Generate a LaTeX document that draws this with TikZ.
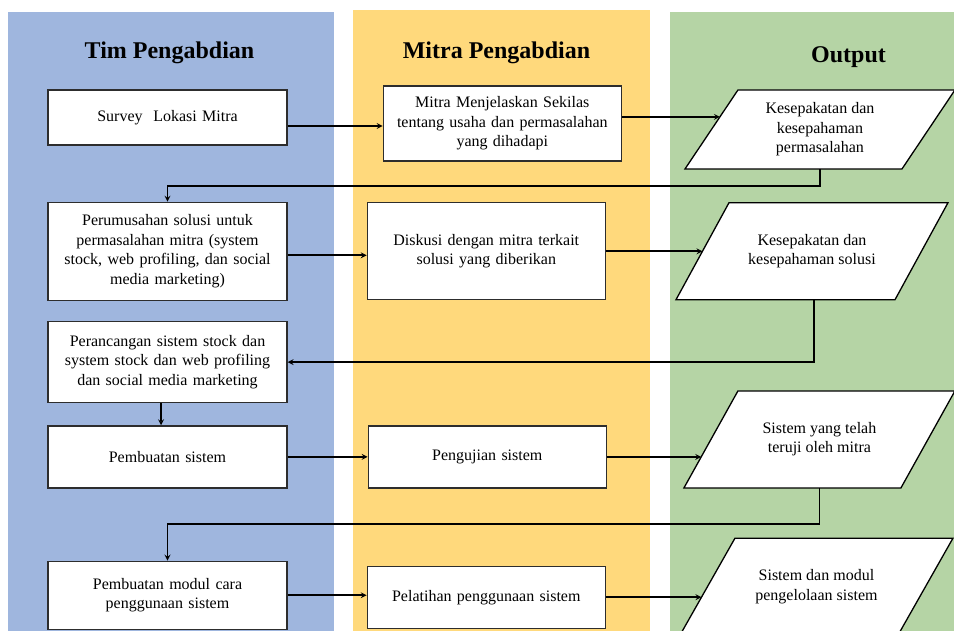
\documentclass[tikz,border=0pt]{standalone}
\usepackage{fontspec}
\setmainfont{Liberation Serif}
\usetikzlibrary{arrows,positioning,calc,backgrounds}
\definecolor{laneblue}{RGB}{159,182,222}
\definecolor{laneyellow}{RGB}{255,217,124}
\definecolor{lanegreen}{RGB}{181,212,165}
\definecolor{boxline}{RGB}{45,45,45}

\begin{document}
\begin{tikzpicture}[
    x=1pt, y=-1pt,
    process/.style={rectangle, draw=boxline, line width=1.3pt, fill=white, text width=226pt, align=center, minimum width=239pt, font=\fontsize{16}{19.5}\selectfont},
    outbox/.style={rectangle, outer sep=0pt, align=center, minimum width=271pt, minimum height=97pt, font=\fontsize{16}{19.5}\selectfont},
    outline/.style={draw, line width=1.3pt, fill=white, line join=miter},
    lanetitle/.style={anchor=base, font=\fontsize{24}{28}\selectfont\bfseries},
    arrow/.style={->, >=stealth, line width=1.6pt}
]
\useasboundingbox (0,0) rectangle (954,631);

\node[lanetitle] (tim-title) at (169.5,59) {Tim Pengabdian};
\node[lanetitle] (mitra-title) at (496.5,59) {Mitra Pengabdian};
\node[lanetitle] (output-title) at (848.5,63) {Output};

% Tim Pengabdian
\node[process, minimum height=55pt] (survey) at (167.5,117.5) {Survey~~Lokasi Mitra};
\node[process, minimum height=98pt, below=56pt of survey] (perumusan) {Perumusahan solusi untuk\\ permasalahan mitra (system\\ stock, web profiling, dan social\\ media marketing)};
\node[process, minimum height=81pt, below=20pt of perumusan] (perancangan) {Perancangan sistem stock dan\\ system stock dan web profiling\\ dan social media marketing};
\node[process, minimum height=62pt, below=22pt of perancangan] (pembuatan) {Pembuatan sistem};
\node[process, minimum height=68pt, below=72pt of pembuatan] (modul) {Pembuatan modul cara\\ penggunaan sistem};

% Mitra Pengabdian
\node[process, minimum width=238pt, minimum height=75pt, right=95pt of survey, yshift=-6pt] (mitra) {Mitra Menjelaskan Sekilas\\ tentang usaha dan permasalahan\\ yang dihadapi};
\node[process, minimum width=238pt, minimum height=97pt, right=79pt of perumusan] (diskusi) {Diskusi dengan mitra terkait\\ solusi yang diberikan};
\node[process, minimum width=238pt, minimum height=62pt, right=80pt of pembuatan] (pengujian) {Pengujian sistem};
\node[process, minimum width=238pt, minimum height=62pt, right=79pt of modul, yshift=-2pt] (pelatihan) {Pelatihan penggunaan sistem};

% Output
\node[outbox, minimum width=270pt, minimum height=79pt, right=63pt of mitra, yshift=-6pt] (kesepakatan1) {Kesepakatan dan\\ kesepahaman\\ permasalahan};
\node[outbox, minimum width=272pt, right=70pt of diskusi] (kesepakatan2) {Kesepakatan dan\\ kesepahaman solusi};
\node[outbox, right=77pt of pengujian, yshift=17.5pt] (teruji) {Sistem yang telah\\ teruji oleh mitra};
\node[outbox, minimum width=273pt, right=74pt of pelatihan, yshift=10.5pt] (modul-out) {Sistem dan modul\\ pengelolaan sistem};

% Lanes and parallelograms behind the text
\begin{scope}[on background layer]
\fill[laneblue] (8,12) rectangle (334,631);
\fill[laneyellow] (353,10) rectangle (650,631);
\fill[lanegreen] (670,12) rectangle (954,631);
\foreach \n/\e in {kesepakatan1/53, kesepakatan2/53, teruji/54, modul-out/55}
    \draw[outline] (\n.south west) -- ([xshift=\e pt]\n.north west) -- (\n.north east) -- ([xshift=-\e pt]\n.south east) -- cycle;
\end{scope}

\coordinate (kesepakatan1-in) at ($(kesepakatan1.south west)!0.66!([xshift=53pt]kesepakatan1.north west)$);
\coordinate (kesepakatan2-in) at ($(kesepakatan2.south west)!0.5!([xshift=53pt]kesepakatan2.north west)$);
\coordinate (teruji-in) at ($(teruji.south west)!0.32!([xshift=54pt]teruji.north west)$);
\coordinate (modul-out-in) at ($(modul-out.south west)!0.39!([xshift=55pt]modul-out.north west)$);

% Arrows
\draw[arrow] ([yshift=-8.5pt]survey.east) -- ([yshift=-8.5pt]survey.east -| mitra.west);
\draw[arrow] (mitra.east |- kesepakatan1-in) -- (kesepakatan1-in);
\draw[arrow] (kesepakatan1.south) -- ++(0,17) -| (perumusan.north);
\draw[arrow] ([yshift=-4pt]perumusan.east) -- ([yshift=-4pt]perumusan.east -| diskusi.west);
\draw[arrow] (diskusi.east |- kesepakatan2-in) -- (kesepakatan2-in);
\draw[arrow] ([xshift=2pt]kesepakatan2.south) |- (perancangan.east);
\draw[arrow] ([xshift=-6.5pt]perancangan.south) -- ([xshift=-6.5pt]pembuatan.north);
\draw[arrow] (pembuatan) -- (pengujian);
\draw[arrow] (pengujian.east) -- (pengujian.east -| teruji-in);
\draw[arrow] (teruji.south) -- ++(0,36) -| (modul.north);
\draw[arrow] (modul.east) -- (modul.east -| pelatihan.west);
\draw[arrow] (pelatihan.east) -- (pelatihan.east -| modul-out-in);

\end{tikzpicture}
\end{document}
